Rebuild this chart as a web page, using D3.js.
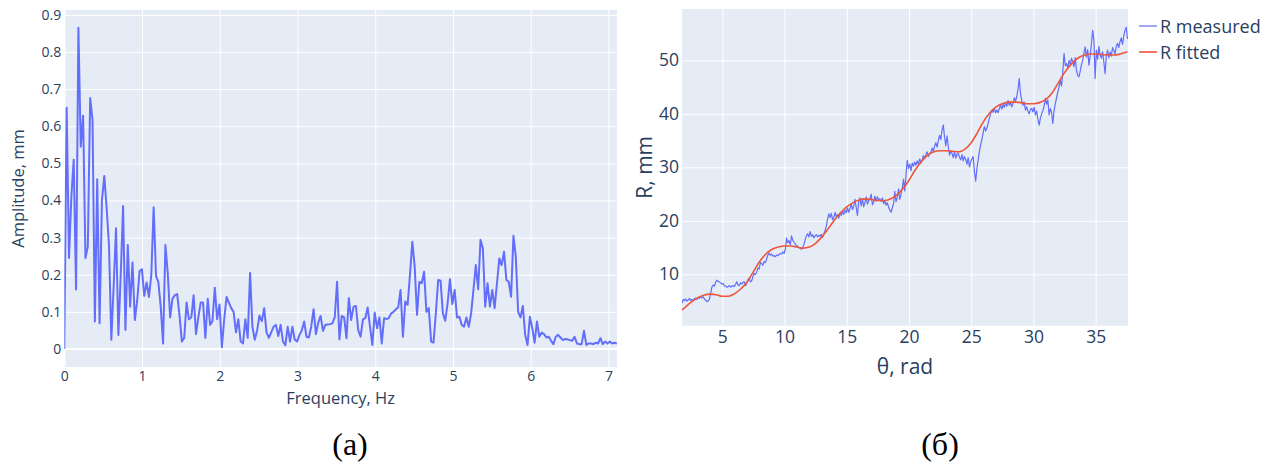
<!DOCTYPE html>
<html><head><meta charset="utf-8">
<script src="https://cdn.jsdelivr.net/npm/d3@7"></script>
<style>
  body { margin: 0; background: #fff; }
  svg { display: block; }
  .tick line { stroke: #fff; }
</style>
</head><body>
<svg id="fig" width="1276" height="466"></svg>
<script>
// ---- Panel (a): amplitude spectrum ----
const freqStep = 0.03025;   // Hz between spectrum bins
const amplitude = [
  0, 0.65, 0.245, 0.41, 0.51, 0.16, 0.865, 0.545, 0.628, 0.245,
  0.276, 0.676, 0.617, 0.074, 0.457, 0.069, 0.40, 0.466, 0.38, 0.28,
  0.025, 0.17, 0.325, 0.038, 0.2, 0.385, 0.051, 0.28, 0.114, 0.233,
  0.078, 0.13, 0.21, 0.215, 0.143, 0.179, 0.14, 0.2, 0.382, 0.197,
  0.18, 0.114, 0.015, 0.28, 0.204, 0.085, 0.135, 0.145, 0.148, 0.09,
  0.02, 0.03, 0.125, 0.08, 0.085, 0.145, 0.04, 0.085, 0.125, 0.125,
  0.03, 0.135, 0.065, 0.075, 0.165, 0.08, 0.12, 0.005, 0.08, 0.14,
  0.125, 0.11, 0.10, 0.045, 0.08, 0.02, 0.015, 0.08, 0.03, 0.205,
  0.06, 0.025, 0.05, 0.09, 0.075, 0.11, 0.045, 0.03, 0.045, 0.06,
  0.065, 0.035, 0.065, 0.02, 0.01, 0.06, 0.02, 0.06, 0.025, 0.02,
  0.038, 0.05, 0.074, 0.033, 0.031, 0.06, 0.107, 0.04, 0.071, 0.089,
  0.049, 0.065, 0.066, 0.067, 0.069, 0.085, 0.181, 0.026, 0.089, 0.085,
  0.029, 0.137, 0.078, 0.114, 0.116, 0.051, 0.033, 0.08, 0.083, 0.112,
  0.06, 0.011, 0.098, 0.056, 0.085, 0.015, 0.083, 0.081, 0.083, 0.096,
  0.10, 0.107, 0.112, 0.159, 0.033, 0.128, 0.119, 0.2, 0.289, 0.222,
  0.092, 0.181, 0.177, 0.208, 0.10, 0.11, 0.02, 0.017, 0.096, 0.186,
  0.184, 0.096, 0.076, 0.123, 0.188, 0.121, 0.159, 0.085, 0.087, 0.065,
  0.06, 0.085, 0.06, 0.096, 0.159, 0.226, 0.161, 0.294, 0.271, 0.114,
  0.177, 0.114, 0.159, 0.11, 0.177, 0.244, 0.226, 0.262, 0.186, 0.181,
  0.141, 0.305, 0.249, 0.10, 0.085, 0.116, 0.038, 0.011, 0.087, 0.056,
  0.017, 0.074, 0.033, 0.044, 0.04, 0.031, 0.033, 0.022, 0.013, 0.033,
  0.038, 0.031, 0.024, 0.027, 0.026, 0.024, 0.022, 0.033, 0.015, 0.013,
  0.013, 0.049, 0.011, 0.015, 0.015, 0.013, 0.017, 0.015, 0.029, 0.013,
  0.02, 0.015, 0.02, 0.015, 0.017, 0.015
];
const freqTicks = [0, 1, 2, 3, 4, 5, 6, 7];
const ampTicks = [0, 0.1, 0.2, 0.3, 0.4, 0.5, 0.6, 0.7, 0.8, 0.9];

// ---- Panel (б): radius vs. angle ----
const thetaStart = 1.76, thetaStep = 0.1;   // rad
const rMeasured = [
  4.6, 5.3, 5.1, 5.4, 5.0, 5.2, 5.5, 5.1, 5.3, 5.2,
  5.4, 5.6, 5.3, 5.7, 5.5, 5.9, 5.6, 5.8, 5.4, 5.2,
  4.9, 5.0, 5.3, 6.4, 7.6, 8.0, 7.8, 8.5, 8.9, 8.7,
  8.6, 8.4, 8.2, 8.3, 7.9, 7.8, 7.6, 7.7, 7.9, 7.6,
  7.8, 7.9, 7.7, 8.1, 8.6, 8.0, 7.9, 8.4, 8.2, 8.5,
  8.6, 7.9, 8.3, 9.0, 9.3, 8.6, 8.8, 9.6, 10.2, 10.0,
  10.4, 11.2, 11.0, 12.2, 12.0, 11.7, 12.4, 12.2, 12.9, 13.6,
  14.0, 13.6, 13.8, 13.4, 13.5, 13.3, 13.6, 13.5, 13.7, 13.9,
  13.8, 14.2, 13.9, 14.6, 16.8, 15.9, 16.3, 15.5, 17.2, 16.4,
  16.0, 15.7, 15.4, 15.2, 15.0, 14.9, 14.7, 15.0, 15.6, 16.5,
  17.2, 17.6, 17.0, 18.0, 17.1, 17.4, 16.8, 17.2, 17.4, 17.0,
  17.3, 17.1, 17.5, 16.9, 17.6, 18.2, 19.0, 20.4, 21.3, 20.6,
  21.4, 20.2, 20.6, 21.6, 20.8, 21.2, 20.5, 21.5, 21.0, 21.8,
  21.2, 22.0, 21.5, 22.4, 21.6, 22.3, 23.2, 22.1, 22.7, 24.0,
  22.5, 21.0, 23.6, 24.3, 22.8, 24.1, 22.6, 23.4, 24.5, 23.1,
  23.8, 24.0, 25.0, 23.0, 23.5, 24.6, 23.7, 24.5, 23.9, 24.1,
  23.6, 24.3, 23.2, 23.8, 22.9, 23.4, 22.6, 22.0, 21.6, 22.4,
  23.2, 25.5, 23.6, 24.4, 26.0, 24.0, 25.0, 26.2, 27.8, 25.6,
  28.6, 31.3, 29.8, 30.6, 29.4, 30.8, 30.2, 31.0, 30.4, 31.2,
  30.6, 31.6, 30.8, 31.4, 32.2, 31.6, 32.4, 32.9, 32.0, 32.6,
  32.8, 33.6, 33.0, 34.0, 34.6, 33.8, 35.0, 36.0, 35.2, 37.0,
  37.9, 35.6, 34.0, 35.9, 33.8, 32.3, 33.1, 32.6, 31.8, 32.9,
  31.7, 32.5, 32.6, 31.9, 31.4, 32.4, 31.2, 32.0, 31.5, 30.6,
  31.8, 30.1, 31.0, 31.6, 32.0, 29.2, 27.4, 29.8, 31.4, 33.0,
  34.2, 35.2, 36.5, 37.6, 36.8, 37.4, 38.2, 39.2, 40.0, 40.7,
  40.3, 41.0, 40.2, 40.7, 40.2, 41.0, 41.6, 40.9, 41.8, 41.2,
  42.0, 41.4, 42.5, 41.6, 42.2, 41.3, 42.0, 43.0, 42.4, 43.2,
  44.6, 46.6, 43.8, 42.5, 41.6, 42.2, 40.7, 41.3, 40.5, 40.0,
  40.8, 41.0, 40.4, 41.2, 39.8, 40.5, 39.0, 37.9, 39.2, 40.0,
  40.6, 41.4, 42.9, 41.8, 42.6, 39.8, 41.0, 40.2, 38.2, 40.6,
  41.9, 43.0, 44.1, 45.0, 46.3, 45.2, 47.8, 51.3, 49.0, 49.4,
  48.6, 50.0, 49.2, 50.4, 49.7, 48.8, 50.5, 48.1, 47.2, 46.9,
  48.0, 49.2, 50.0, 51.4, 52.5, 50.6, 52.0, 49.1, 50.8, 53.0,
  55.6, 53.8, 46.6, 51.9, 50.2, 52.6, 51.0, 50.4, 51.6, 49.7,
  47.5, 50.9, 51.9, 50.5, 51.6, 50.8, 52.4, 51.9, 51.2, 52.6,
  53.2, 52.4, 53.5, 54.2, 53.0, 54.6, 55.6, 56.2, 54.0
];
const fitTheta = [1.76, 2.5, 3, 3.5, 4, 4.5, 5, 5.5, 6, 6.5, 7, 7.5, 8, 8.5, 9, 9.5,
  10, 10.5, 11, 11.5, 12, 12.5, 13, 13.5, 14, 14.5, 15, 15.5, 16, 16.5, 17, 17.5,
  18, 18.5, 19, 19.5, 20, 20.5, 21, 21.5, 22, 22.5, 23, 23.5, 24, 24.5, 25, 25.5,
  26, 26.5, 27, 27.5, 28, 28.5, 29, 29.5, 30, 30.5, 31, 31.5, 32, 32.5, 33, 33.5,
  34, 34.5, 35, 35.5, 36, 36.5, 37, 37.56];
const rFitted = [3.3, 4.8, 5.6, 6.1, 6.3, 6.2, 5.9, 5.9, 6.4, 7.3, 8.6, 10.5, 12.4, 13.8, 14.7, 15.1,
  15.3, 15.3, 15.1, 14.9, 15.1, 15.8, 17.0, 18.5, 20.1, 21.5, 22.6, 23.4, 23.9, 24.1, 24.0, 23.8,
  23.8, 24.1, 24.8, 26.0, 27.6, 29.5, 31.1, 32.3, 32.9, 33.1, 33.1, 33.0, 32.9, 33.4, 34.6, 36.5,
  38.6, 40.2, 41.3, 41.9, 42.2, 42.2, 42.1, 41.9, 41.9, 42.1, 42.7, 43.9, 45.8, 47.7, 49.2, 50.3,
  50.9, 51.2, 51.2, 51.1, 51.0, 51.0, 51.2, 51.6];
const thetaTicks = [5, 10, 15, 20, 25, 30, 35];
const rTicks = [10, 20, 30, 40, 50];
const seriesNames = ["R measured", "R fitted"];
const panelLabels = ["(a)", "(б)"];

// ---- common styling ----
const FONT = "'Open Sans', 'Noto Sans', sans-serif";
const INK = "#2a3f5f";
const PLOT_BG = "#E5ECF6";
const BLUE = "#636efa", RED = "#EF553B";

const svg = d3.select("#fig");

function panel(opts) {
  const { x, y, xTicks, yTicks, xFmt, yFmt, tickSize, id } = opts;
  const [x0, x1] = x.range();
  const [y1, y0] = y.range();
  const g = svg.append("g");

  g.append("rect").attr("x", x0).attr("y", y0)
    .attr("width", x1 - x0).attr("height", y1 - y0).attr("fill", PLOT_BG);

  // grid
  g.append("g").attr("transform", `translate(0,${y1})`)
    .call(d3.axisBottom(x).tickValues(xTicks).tickSize(-(y1 - y0)).tickFormat(""))
    .call(a => a.select(".domain").remove())
    .call(a => a.selectAll("line").attr("stroke", "#fff").attr("stroke-width", 1));
  g.append("g").attr("transform", `translate(${x0},0)`)
    .call(d3.axisLeft(y).tickValues(yTicks).tickSize(-(x1 - x0)).tickFormat(""))
    .call(a => a.select(".domain").remove())
    .call(a => a.selectAll("line").attr("stroke", "#fff").attr("stroke-width", 1));

  // tick labels
  g.append("g").attr("transform", `translate(0,${y1})`)
    .call(d3.axisBottom(x).tickValues(xTicks).tickSize(0).tickPadding(opts.xPad).tickFormat(xFmt))
    .call(a => a.select(".domain").remove())
    .call(a => a.selectAll("text").attr("fill", INK).style("font-family", FONT).style("font-size", tickSize + "px"));
  g.append("g").attr("transform", `translate(${x0},0)`)
    .call(d3.axisLeft(y).tickValues(yTicks).tickSize(0).tickPadding(opts.yPad).tickFormat(yFmt))
    .call(a => a.select(".domain").remove())
    .call(a => a.selectAll("text").attr("fill", INK).style("font-family", FONT).style("font-size", tickSize + "px"));

  svg.append("defs").append("clipPath").attr("id", id)
    .append("rect").attr("x", x0).attr("y", y0).attr("width", x1 - x0).attr("height", y1 - y0);
  return g;
}

// ---------- panel (a) ----------
const xA = d3.scaleLinear().domain([0, 7.11]).range([64.3, 617]);
const yA = d3.scaleLinear().domain([-0.0485, 0.913]).range([367, 10]);
const gA = panel({
  x: xA, y: yA, xTicks: freqTicks, yTicks: ampTicks,
  xFmt: d3.format("d"), yFmt: d => d === 0 ? "0" : d3.format(".1f")(d),
  tickSize: 14, xPad: 4, yPad: 3, id: "clipA"
});
// zero lines
gA.append("line").attr("x1", xA.range()[0]).attr("x2", xA.range()[1])
  .attr("y1", yA(0)).attr("y2", yA(0)).attr("stroke", "#fff").attr("stroke-width", 2);
gA.append("line").attr("x1", xA(0)).attr("x2", xA(0))
  .attr("y1", yA.range()[0]).attr("y2", yA.range()[1]).attr("stroke", "#fff").attr("stroke-width", 2);

const specData = amplitude.map((a, k) => ({ f: k * freqStep, a }));
gA.append("path").datum(specData)
  .attr("clip-path", "url(#clipA)")
  .attr("fill", "none").attr("stroke", BLUE).attr("stroke-width", 2).attr("stroke-linejoin", "round")
  .attr("d", d3.line().x(d => xA(d.f)).y(d => yA(d.a)));

gA.append("text").attr("x", (xA.range()[0] + xA.range()[1]) / 2).attr("y", 404)
  .attr("text-anchor", "middle").attr("fill", INK)
  .style("font-family", FONT).style("font-size", "16.5px").text("Frequency, Hz");
gA.append("text").attr("transform", `translate(24,${(yA.range()[0] + yA.range()[1]) / 2}) rotate(-90)`)
  .attr("text-anchor", "middle").attr("fill", INK)
  .style("font-family", FONT).style("font-size", "16.5px").text("Amplitude, mm");

// ---------- panel (б) ----------
const xB = d3.scaleLinear().domain([1.76, 37.6]).range([682, 1128]);
const yB = d3.scaleLinear().domain([0.4, 59.6]).range([325.7, 9]);
const gB = panel({
  x: xB, y: yB, xTicks: thetaTicks, yTicks: rTicks,
  xFmt: d3.format("d"), yFmt: d3.format("d"),
  tickSize: 17.5, xPad: 5, yPad: 3, id: "clipB"
});

const measData = rMeasured.map((r, i) => ({ t: thetaStart + i * thetaStep, r }));
const fitData = fitTheta.map((t, i) => ({ t, r: rFitted[i] }));
gB.append("path").datum(measData)
  .attr("clip-path", "url(#clipB)")
  .attr("fill", "none").attr("stroke", BLUE).attr("stroke-width", 1.2).attr("stroke-linejoin", "round")
  .attr("d", d3.line().x(d => xB(d.t)).y(d => yB(d.r)));
gB.append("path").datum(fitData)
  .attr("clip-path", "url(#clipB)")
  .attr("fill", "none").attr("stroke", RED).attr("stroke-width", 1.6)
  .attr("d", d3.line().curve(d3.curveMonotoneX).x(d => xB(d.t)).y(d => yB(d.r)));

gB.append("text").attr("x", (xB.range()[0] + xB.range()[1]) / 2).attr("y", 374)
  .attr("text-anchor", "middle").attr("fill", INK)
  .style("font-family", FONT).style("font-size", "21px").text("θ, rad");
gB.append("text").attr("transform", `translate(652,${(yB.range()[0] + yB.range()[1]) / 2}) rotate(-90)`)
  .attr("text-anchor", "middle").attr("fill", INK)
  .style("font-family", FONT).style("font-size", "21px").text("R, mm");

// legend
const legend = svg.append("g");
[BLUE, RED].forEach((c, i) => {
  const ly = 26 + i * 26;
  legend.append("line").attr("x1", 1139).attr("x2", 1157).attr("y1", ly).attr("y2", ly)
    .attr("stroke", c).attr("stroke-width", i === 0 ? 1.2 : 1.6);
  legend.append("text").attr("x", 1160).attr("y", ly + 6.5).attr("fill", INK)
    .style("font-family", FONT).style("font-size", "18px").text(seriesNames[i]);
});

// panel captions
[350, 940].forEach((cx, i) => {
  svg.append("text").attr("x", cx).attr("y", 455).attr("text-anchor", "middle")
    .attr("fill", "#000").style("font-family", "'Liberation Serif', 'Times New Roman', serif")
    .style("font-size", "32px").text(panelLabels[i]);
});
</script>
</body></html>
